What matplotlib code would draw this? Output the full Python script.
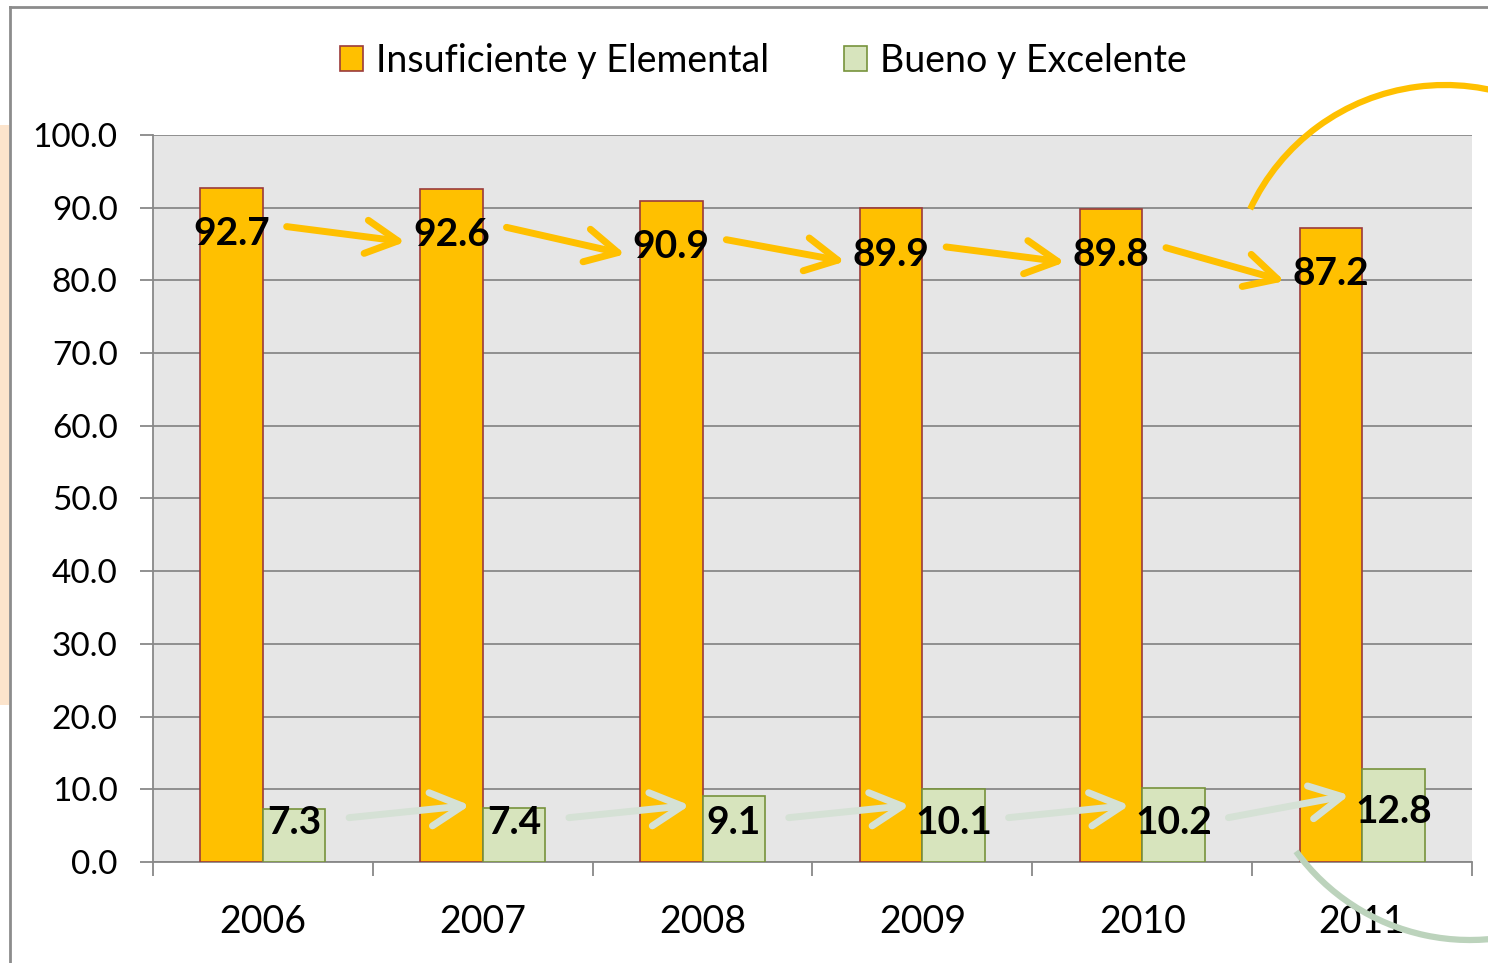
import matplotlib
matplotlib.use("Agg")
import matplotlib.pyplot as plt
from matplotlib.patches import Arc, Rectangle
from matplotlib.lines import Line2D

years = ["2006", "2007", "2008", "2009", "2010", "2011"]
insuficiente = [92.7, 92.6, 90.9, 89.9, 89.8, 87.2]
bueno = [7.3, 7.4, 9.1, 10.1, 10.2, 12.8]
series_names = ["Insuficiente y Elemental", "Bueno y Excelente"]

ORANGE = "#FFC000"
GREEN = "#D7E4BD"
plt.rcParams["font.family"] = ["Lato", "DejaVu Sans"]

fig = plt.figure(figsize=(14.88, 9.63), dpi=100)
ax = fig.add_axes([153 / 1488, 101 / 963, 1319 / 1488, 727 / 963])
ax.set_facecolor("#E6E6E6")

x = list(range(len(years)))
w = 0.284
xo = [i - w / 2 for i in x]
xg = [i + w / 2 for i in x]
ax.bar(xo, insuficiente, w, color=ORANGE, edgecolor="#9B3B3B", linewidth=1.2,
       label=series_names[0], zorder=3)
ax.bar(xg, bueno, w, color=GREEN, edgecolor="#77933C", linewidth=1.2,
       label=series_names[1], zorder=3)

ax.set_xlim(-0.5, 5.5)
ax.set_ylim(0, 100)
ax.set_yticks(range(0, 101, 10))
ax.set_yticklabels(["%.1f" % v for v in range(0, 101, 10)], fontsize=24)
ax.set_xticks(x)
ax.set_xticklabels(years, fontsize=27)
ax.set_xticks([i - 0.5 for i in range(len(years) + 1)], minor=True)
ax.tick_params(axis="x", which="major", length=0, pad=30)
ax.tick_params(axis="x", which="minor", length=10, color="#888888", width=1.3)
ax.tick_params(axis="y", length=9.5, color="#888888", width=1.3, pad=16)
ax.grid(axis="y", color="#888888", linewidth=1.3, zorder=1)
ax.set_axisbelow(True)
for s in ["top", "right"]:
    ax.spines[s].set_visible(False)
for s in ["left", "bottom"]:
    ax.spines[s].set_color("#888888")
    ax.spines[s].set_linewidth(1.3)

# labels
ly_o = [v - 6.3 for v in insuficiente]
ly_g = [max(5.5, v - 5.9) for v in bueno]
for i in x:
    ax.text(xo[i], ly_o[i], "%.1f" % insuficiente[i], ha="center", va="center",
            fontsize=28, fontweight="bold", zorder=5)
    ax.text(xg[i], ly_g[i], "%.1f" % bueno[i], ha="center", va="center",
            fontsize=28, fontweight="bold", zorder=5)

# trend arrows
for i in x[:-1]:
    ax.annotate("", xy=(xo[i + 1] - 0.21, ly_o[i + 1] - 1), xytext=(xo[i] + 0.25, ly_o[i] + 1),
                arrowprops=dict(arrowstyle="->,head_length=2.3,head_width=1.2", color=ORANGE,
                                lw=5, mutation_scale=10, capstyle="round",
                                shrinkA=0, shrinkB=0), zorder=4)
    ax.annotate("", xy=(xg[i + 1] - 0.2, ly_g[i + 1] + 2.3), xytext=(xg[i] + 0.25, ly_g[i] + 0.6),
                arrowprops=dict(arrowstyle="->,head_length=2.3,head_width=1.2", color="#D5E1D5",
                                lw=5, mutation_scale=10, capstyle="round",
                                shrinkA=0, shrinkB=0), zorder=4)

fig.legend(loc="center", bbox_to_anchor=(0.513, 0.937), ncol=2, frameon=False,
           fontsize=27, handlelength=0.62, handleheight=0.62, columnspacing=2.0,
           handletextpad=0.35)

# decorative arcs and frame
fig.add_artist(Arc((14.45, 6.63), 4.3, 4.3, theta1=40, theta2=155, color=ORANGE, lw=4.5,
                   transform=fig.dpi_scale_trans, zorder=10))
fig.add_artist(Arc((14.70, 2.38), 4.3, 4.3, theta1=216, theta2=300, color="#BCD3BC", lw=4.5,
                   transform=fig.dpi_scale_trans, zorder=10))
fig.add_artist(Rectangle((0, 258 / 963), 9 / 1488, 580 / 963, color="#FCE4CC", lw=0,
                         transform=fig.transFigure))
fig.add_artist(Line2D([10 / 1488, 10 / 1488], [0, 1 - 7 / 963], color="#8C8C8C", lw=2,
                      transform=fig.transFigure))
fig.add_artist(Line2D([10 / 1488, 1], [1 - 7 / 963, 1 - 7 / 963], color="#8C8C8C", lw=2,
                      transform=fig.transFigure))

fig.savefig("out.png", dpi=100)
